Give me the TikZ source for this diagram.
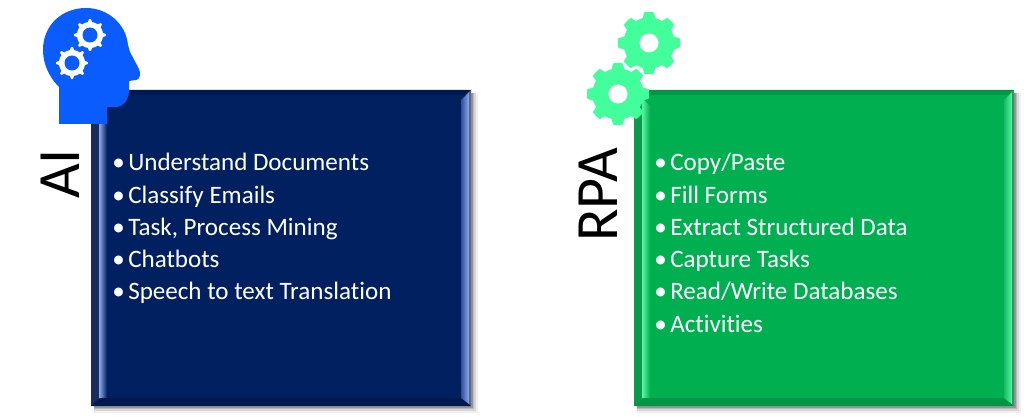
\documentclass[tikz,border=0pt]{standalone}
\usepackage{fontspec}
\setmainfont[RawFeature=-liga]{Carlito}
\definecolor{navy}{HTML}{002060}
\definecolor{navyd}{HTML}{1A2C5C}
\definecolor{navyt}{HTML}{001A50}
\definecolor{navyl}{HTML}{8FAAEA}
\definecolor{navym}{HTML}{2F4F9F}
\definecolor{grn}{HTML}{00B050}
\definecolor{grnd}{HTML}{0A9A4C}
\definecolor{grnt}{HTML}{009645}
\definecolor{grnl}{HTML}{5CF5A5}
\definecolor{grnm}{HTML}{14BE63}
\definecolor{headblue}{HTML}{0A5CFF}
\definecolor{gearg}{HTML}{42FF9C}
\tikzset{
  x=0.75pt,y=-0.75pt,
  declare function={
    gd(\a)=min(mod(\a+720,45),45-mod(\a+720,45));
    gr(\a,\ro,\ri,\w,\s)=\ri+(\ro-\ri)*max(0,min(1,(\w-gd(\a))/\s));
  },
  bullettext/.style={anchor=base west,text=white,inner sep=0pt,font=\fontsize{18.8pt}{20pt}\selectfont},
  sidelabel/.style={rotate=90,text=black,inner sep=0pt,font=\fontsize{45pt}{47pt}\selectfont},
  boxbody/.style={rectangle,inner sep=0pt,minimum width=380*0.75pt,minimum height=316*0.75pt,anchor=north west},
}
\newcommand{\softshadow}[4]{%
  \foreach \k/\op in {7/0.06,5/0.10,3/0.14,1.5/0.18}{
    \fill[black,opacity=\op] (#1+3,#2+3) rectangle (#3+\k,#4+\k);
  }
}
% x0 y0 x1 y1 fill dark-left top-bottom mid light
\newcommand{\bevelbox}[9]{%
  \fill[#6] (#1,#2) -- (#1+8,#2+8) -- (#1+8,#4-8) -- (#1,#4) -- cycle;
  \shade[left color=#9,right color=#5] (#1+8,#2+8) -- (#1+16,#2+16) -- (#1+16,#4-9) -- (#1+8,#4-1) -- cycle;
  \fill[#7] (#1,#2) -- (#3,#2) -- (#3-5,#2+5) -- (#1+5,#2+5) -- cycle;
  \fill[#7] (#1,#4) -- (#3,#4) -- (#3-10,#4-8) -- (#1+9,#4-8) -- cycle;
  \shade[left color=#8,right color=#9] (#3-10,#2+10) -- (#3-2,#2+2) -- (#3-2,#4-2) -- (#3-10,#4-8) -- cycle;
  \fill[#9!60!black] (#3-2,#2+2) -- (#3,#2) -- (#3,#4) -- (#3-2,#4-2) -- cycle;
}
\newcommand{\gear}[8]{% cx cy outer root halfwidth slope hole-r colour
  \fill[#8,line join=round] plot[domain=0:360,samples=241] ({#1+gr(\x,#3,#4,#5,#6)*sin(\x)},{#2-gr(\x,#3,#4,#5,#6)*cos(\x)}) -- cycle;
  \fill[white] (#1,#2) circle[radius=#7];
}
\begin{document}
\begin{tikzpicture}
\useasboundingbox (0,0) rectangle (1024,417);
\fill[white] (0,0) rectangle (1024,417);

% AI box
\softshadow{91}{90}{471}{406}
\node[boxbody,fill=navy] (aibox) at (91,90) {};
\bevelbox{91}{90}{471}{406}{navy}{navyd}{navyt}{navym}{navyl}
% RPA box
\softshadow{634}{90}{1014}{406}
\node[boxbody,fill=grn] (rpabox) at (634,90) {};
\bevelbox{634}{90}{1014}{406}{grn}{grnd}{grnt}{grnm}{grnl}

% side labels
\node[sidelabel] (ailabel) at (60,174) {AI};
\node[sidelabel] (rpalabel) at (598,195) {RPA};

% lists
\foreach \t [count=\i from 0] in {Understand Documents,Classify Emails,{Task, Process Mining},Chatbots,Speech to text Translation}{
  \node[bullettext] (ai\i) at (112,171+32.2*\i) {\makebox[12pt][l]{•}\t};
}
\foreach \t [count=\i from 0] in {Copy/Paste,Fill Forms,Extract Structured Data,Capture Tasks,Read/Write Databases,Activities}{
  \node[bullettext] (rpa\i) at (654,171+32.2*\i) {\makebox[12pt][l]{•}\t};
}

% head
\fill[headblue] (59,124) -- (59,87)
  .. controls (50,78) and (43,65) .. (43,50)
  .. controls (43,25) and (62,8) .. (86,8)
  .. controls (108,8) and (126,24) .. (128,45)
  -- (130,52) -- (139,69)
  .. controls (141,73) and (140,80) .. (136,80)
  -- (129,81) -- (129,92)
  .. controls (128,101) and (123,107) .. (115,107)
  -- (107,107) -- (107,124) -- cycle;
\fill[white] plot[domain=0:360,samples=241] ({90+gr(\x,16,13,9,6)*sin(\x)},{35-gr(\x,16,13,9,6)*cos(\x)}) -- cycle;
\fill[headblue] (90,35) circle[radius=7.5];
\fill[white] plot[domain=0:360,samples=241] ({72+gr(\x,16,13,9,6)*sin(\x)},{63-gr(\x,16,13,9,6)*cos(\x)}) -- cycle;
\fill[headblue] (72,63) circle[radius=7.5];

% green gears
\gear{649}{43}{31}{25.5}{14}{5}{9.5}{gearg}
\gear{618}{94}{31}{25.5}{14}{5}{9.5}{gearg}
\end{tikzpicture}
\end{document}
